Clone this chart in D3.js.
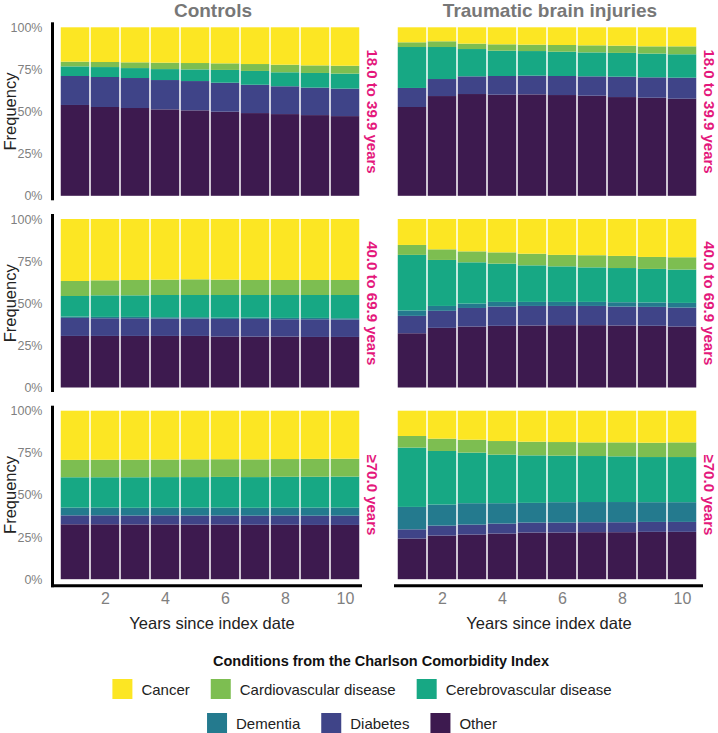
<!DOCTYPE html>
<html>
<head>
<meta charset="utf-8">
<script src="https://cdn.jsdelivr.net/npm/d3@7"></script>
<style>
    body { margin: 0; background: #fff; }
    svg { font-family: "Liberation Sans", Arial, sans-serif; }
</style>
</head>
<body>
<div id="chart"></div>
<script>
// stacking order, bottom to top
var categories = ['Other', 'Diabetes', 'Dementia', 'Cerebrovascular disease', 'Cardiovascular disease', 'Cancer'];
var legendOrder = ['Cancer', 'Cardiovascular disease', 'Cerebrovascular disease', 'Dementia', 'Diabetes', 'Other'];
var colors = ['#3D1A4F', '#3F4488', '#247A8E', '#17A884', '#7DBE51', '#FCE623'];
var years = [1, 2, 3, 4, 5, 6, 7, 8, 9, 10];
var groups = ['Controls', 'Traumatic brain injuries'];
var ageBands = ['18.0 to 39.9 years', '40.0 to 69.9 years', '\u226570.0 years'];
var yTicks = [0, 0.25, 0.5, 0.75, 1];
var xTicks = [2, 4, 6, 8, 10];

// each panel: one row per category (same order as categories), percent per year
var controls18 = [
    [53.9, 52.7, 52.1, 51.3, 50.7, 49.9, 49.1, 48.5, 47.9, 47.3],
    [17.2, 17.8, 17.8, 17.4, 17.4, 17.2, 16.8, 16.5, 16.3, 16.3],
    [0, 0, 0, 0, 0, 0, 0, 0, 0, 0],
    [5.7, 5.9, 5.9, 6.5, 6.9, 7.6, 8.2, 8.3, 8.7, 8.9],
    [2.8, 3.0, 3.4, 3.8, 3.8, 3.9, 4.1, 4.5, 4.5, 4.7],
    [20.4, 20.6, 20.8, 21.0, 21.2, 21.4, 21.8, 22.2, 22.6, 22.8]
];
var tbi18 = [
    [52.7, 59.2, 60.4, 60.0, 60.2, 59.8, 59.4, 58.6, 58.2, 57.6],
    [11.3, 10.1, 10.5, 11.1, 11.1, 11.3, 11.5, 12.1, 12.1, 12.5],
    [0, 0, 0, 0, 0, 0, 0, 0, 0, 0],
    [24.3, 19.0, 16.2, 15.0, 14.6, 14.4, 14.2, 14.1, 14.1, 13.9],
    [2.8, 3.4, 3.2, 3.8, 3.8, 4.0, 4.2, 4.3, 4.3, 4.7],
    [8.9, 8.3, 9.7, 10.1, 10.3, 10.5, 10.7, 10.9, 11.3, 11.3]
];
var controls40 = [
    [30.6, 30.6, 30.6, 30.6, 30.6, 30.2, 30.2, 30.2, 30.0, 30.0],
    [10.7, 10.5, 10.5, 10.3, 10.3, 10.5, 10.5, 10.3, 10.5, 10.3],
    [0.8, 0.8, 0.8, 0.8, 0.8, 0.8, 0.8, 0.8, 0.8, 0.8],
    [12.2, 12.8, 12.8, 13.2, 13.2, 13.4, 13.4, 13.6, 13.6, 13.8],
    [8.9, 8.9, 9.1, 9.1, 9.3, 9.1, 8.9, 8.9, 8.9, 8.9],
    [36.8, 36.4, 36.2, 36.0, 35.8, 36.0, 36.2, 36.2, 36.2, 36.2]
];
var tbi40 = [
    [32.2, 35.4, 36.2, 36.6, 36.8, 37.0, 37.0, 36.8, 36.6, 36.2],
    [10.3, 10.1, 11.0, 11.4, 11.6, 11.4, 11.4, 11.2, 11.2, 11.2],
    [3.2, 2.9, 2.6, 2.8, 2.4, 2.4, 2.4, 2.6, 2.6, 2.8],
    [33.0, 27.3, 24.5, 22.7, 21.7, 21.1, 20.5, 20.3, 19.9, 19.8],
    [5.9, 6.3, 6.5, 6.7, 6.9, 6.8, 7.2, 7.2, 7.1, 7.3],
    [15.4, 18.0, 19.2, 19.8, 20.6, 21.3, 21.5, 21.9, 22.5, 22.7]
];
var controls70 = [
    [32.6, 32.6, 32.5, 32.5, 32.4, 32.4, 32.3, 32.3, 32.2, 32.2],
    [5.3, 5.3, 5.3, 5.4, 5.4, 5.4, 5.4, 5.5, 5.5, 5.5],
    [4.6, 4.6, 4.6, 4.6, 4.7, 4.7, 4.7, 4.7, 4.8, 4.8],
    [18.0, 18.0, 18.1, 18.1, 18.1, 18.2, 18.2, 18.3, 18.3, 18.4],
    [10.3, 10.4, 10.4, 10.4, 10.5, 10.5, 10.5, 10.5, 10.6, 10.6],
    [29.2, 29.1, 29.1, 29.0, 28.9, 28.8, 28.9, 28.7, 28.6, 28.5]
];
var tbi70 = [
    [24.1, 25.9, 26.5, 27.1, 27.7, 27.7, 27.9, 27.9, 28.1, 28.1],
    [5.5, 5.9, 5.9, 5.9, 5.9, 5.9, 5.9, 5.9, 5.9, 5.9],
    [13.3, 12.5, 12.7, 12.1, 11.7, 12.1, 12.0, 12.0, 11.7, 11.7],
    [35.2, 31.8, 30.0, 28.8, 28.2, 27.6, 27.3, 27.1, 26.8, 26.8],
    [6.9, 7.3, 7.7, 8.1, 8.1, 8.1, 8.1, 8.3, 8.5, 8.7],
    [15.0, 16.6, 17.2, 18.0, 18.4, 18.6, 18.8, 18.8, 19.0, 18.8]
];

var panels = [
    [controls18, tbi18],
    [controls40, tbi40],
    [controls70, tbi70]
];

var width = 718, height = 733;
var colX = [60, 397];
var rowY = [27.3, 219, 410.7];
var pw = 300, ph = 168.5;
var pink = '#E4187C';

var svg = d3.select('#chart').append('svg')
    .attr('width', width)
    .attr('height', height);

var color = d3.scaleOrdinal().domain(categories).range(colors);

var x = d3.scaleLinear().domain([0.5, 10.5]).range([0, pw]);
var y = d3.scaleLinear().domain([0, 1]).range([ph, 0]);

var stack = d3.stack().keys(categories).offset(d3.stackOffsetExpand);

// column titles
groups.forEach(function (g, c) {
    svg.append('text')
        .attr('x', colX[c] + pw / 2 + 3)
        .attr('y', 17)
        .attr('text-anchor', 'middle')
        .attr('font-size', '19px')
        .attr('font-weight', 'bold')
        .attr('fill', '#777')
        .text(g);
});

panels.forEach(function (row, r) {
    row.forEach(function (series, c) {
        var rows = years.map(function (yr, i) {
            var o = {year: yr};
            categories.forEach(function (k, j) {
                o[k] = series[j][i];
            });
            return o;
        });

        var g = svg.append('g')
            .attr('transform', 'translate(' + colX[c] + ',' + rowY[r] + ')');

        var layers = g.selectAll('.layer')
            .data(stack(rows))
            .enter()
            .append('g')
            .attr('class', 'layer')
            .attr('fill', function (d) { return color(d.key); });

        layers.selectAll('rect')
            .data(function (d) { return d; })
            .enter()
            .append('rect')
            .attr('x', function (d) { return x(d.data.year - 0.5) + 0.75; })
            .attr('width', x(1.5) - x(0.5) - 1.5)
            .attr('y', function (d) { return y(d[1]); })
            .attr('height', function (d) { return y(d[0]) - y(d[1]); });

        // y axis only on the left column
        if (c === 0) {
            var yAxisCall = d3.axisLeft(y)
                .tickValues(yTicks)
                .tickFormat(d3.format('.0%'))
                .tickSize(0)
                .tickPadding(10);
            var ya = g.append('g')
                .attr('class', 'y-axis')
                .attr('transform', 'translate(-7.5,0)')
                .call(yAxisCall);
            ya.select('.domain').remove();
            ya.selectAll('text')
                .attr('font-size', '12.5px')
                .attr('fill', '#7f7f7f');
            g.append('line')
                .attr('x1', -7.5).attr('x2', -7.5)
                .attr('y1', -5).attr('y2', ph + (r === 2 ? 8 : 4.5))
                .attr('stroke', '#000')
                .attr('stroke-width', 3);

            g.append('text')
                .attr('x', -ph / 2)
                .attr('y', -44)
                .attr('transform', 'rotate(-90)')
                .attr('text-anchor', 'middle')
                .attr('font-size', '16.5px')
                .attr('fill', '#222')
                .text('Frequency');
        }

        // x axis on the bottom row
        if (r === 2) {
            var xAxisCall = d3.axisBottom(x)
                .tickValues(xTicks)
                .tickSize(0)
                .tickPadding(7);
            var xa = g.append('g')
                .attr('class', 'x-axis')
                .attr('transform', 'translate(0,' + (ph + 6.5) + ')')
                .call(xAxisCall);
            xa.select('.domain').remove();
            xa.selectAll('text')
                .attr('font-size', '16px')
                .attr('fill', '#7f7f7f');
            g.append('line')
                .attr('x1', c === 0 ? -9 : -3).attr('x2', c === 0 ? 302 : 306)
                .attr('y1', ph + 6.5).attr('y2', ph + 6.5)
                .attr('stroke', '#000')
                .attr('stroke-width', 3);

            g.append('text')
                .attr('x', pw / 2 + 2)
                .attr('y', ph + 50)
                .attr('text-anchor', 'middle')
                .attr('font-size', '16.5px')
                .attr('fill', '#222')
                .text('Years since index date');
        }

        // strip label on the right
        g.append('text')
            .attr('transform', 'translate(' + (pw + 7) + ',' + (ph / 2) + ') rotate(90)')
            .attr('text-anchor', 'middle')
            .attr('font-size', '15px')
            .attr('font-weight', 'bold')
            .attr('fill', pink)
            .text(ageBands[r]);
    });
});

// legend
svg.append('text')
    .attr('x', 381)
    .attr('y', 666)
    .attr('text-anchor', 'middle')
    .attr('font-size', '14.5px')
    .attr('font-weight', 'bold')
    .attr('fill', '#111')
    .text('Conditions from the Charlson Comorbidity Index');

var legendRows = [legendOrder.slice(0, 3), legendOrder.slice(3)];
var legendY = [689, 723];
var legendCenter = [362, 352];

legendRows.forEach(function (items, r) {
    var lg = svg.append('g');
    var cx = 0;
    items.forEach(function (k) {
        var item = lg.append('g').attr('transform', 'translate(' + cx + ',0)');
        item.append('rect')
            .attr('x', 0)
            .attr('y', -10)
            .attr('width', 20)
            .attr('height', 20)
            .attr('fill', color(k));
        var t = item.append('text')
            .attr('x', 29)
            .attr('y', 5.5)
            .attr('font-size', '15px')
            .attr('fill', '#222')
            .text(k);
        cx += 29 + t.node().getComputedTextLength() + 21;
    });
    var total = cx - 21;
    lg.attr('transform', 'translate(' + (legendCenter[r] - total / 2) + ',' + legendY[r] + ')');
});
</script>
</body>
</html>
